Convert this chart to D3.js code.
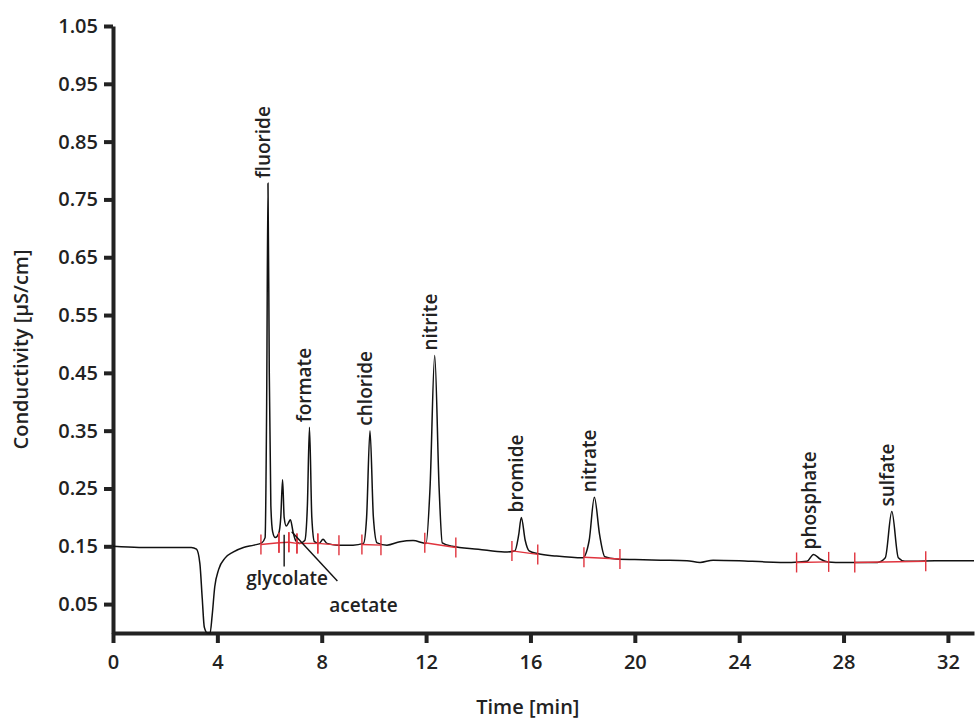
<!DOCTYPE html>
<html><head><meta charset="utf-8">
<script src="https://cdn.jsdelivr.net/npm/d3@7"></script>
<style>body{margin:0;background:#fff}text{font-family:"Open Sans",sans-serif;fill:#222}</style>
</head><body><svg id="c" width="975" height="723"></svg>
<script>
const traceT=[0,1,2,3,3.2,3.33,3.42,3.5,3.62,3.72,3.8,3.9,4.05,4.3,4.6,5,5.4,5.7,5.83,5.89,5.94,5.99,6.05,6.12,6.22,6.35,6.43,6.5,6.56,6.64,6.72,6.8,6.9,7.0,7.15,7.35,7.45,7.53,7.62,7.72,7.9,8.05,8.2,8.6,9.2,9.6,9.72,9.85,9.98,10.12,10.5,11,11.5,12.0,12.15,12.33,12.5,12.62,13,14,15,15.4,15.55,15.65,15.8,15.95,16.3,17,18,18.25,18.45,18.65,18.85,19.3,20,21,22,22.5,23,24,25,26,26.6,26.85,27.1,27.4,28,29.3,29.6,29.85,30.1,30.35,30.7,31.5,33];
const traceV=[0.15,0.148,0.148,0.148,0.145,0.12,0.06,0.01,0.0,0.0,0.03,0.08,0.11,0.13,0.14,0.148,0.152,0.156,0.165,0.4,0.778,0.45,0.22,0.175,0.165,0.172,0.2,0.265,0.2,0.185,0.19,0.196,0.175,0.16,0.155,0.16,0.22,0.356,0.2,0.158,0.155,0.162,0.155,0.152,0.152,0.155,0.2,0.35,0.2,0.156,0.152,0.158,0.16,0.155,0.25,0.48,0.25,0.156,0.15,0.145,0.14,0.142,0.17,0.2,0.16,0.142,0.137,0.133,0.13,0.16,0.235,0.17,0.132,0.128,0.127,0.126,0.125,0.122,0.126,0.125,0.123,0.122,0.124,0.136,0.128,0.123,0.122,0.122,0.13,0.21,0.13,0.124,0.124,0.125,0.125];
const intStart=[5.67,6.36,6.74,7.05,7.85,9.54,11.95,15.29,18.05,26.2,28.43];
const intEnd=[6.36,6.74,7.05,7.85,8.66,10.27,13.14,16.28,19.43,27.43,31.15];
const intV0=[0.153,0.156,0.157,0.155,0.155,0.153,0.156,0.142,0.131,0.122,0.122];
const intV1=[0.156,0.157,0.155,0.155,0.152,0.152,0.148,0.136,0.128,0.123,0.124];
const peakNames=["fluoride","formate","chloride","nitrite","bromide","nitrate","phosphate","sulfate"];
const peakT=[5.94,7.53,9.85,12.33,15.65,18.45,26.85,29.85];
const peakV=[0.778,0.356,0.35,0.48,0.2,0.235,0.136,0.21];
const xTicks=[0,4,8,12,16,20,24,28,32];
const yTicks=[0.05,0.15,0.25,0.35,0.45,0.55,0.65,0.75,0.85,0.95,1.05];

const svg=d3.select("#c");
const x=d3.scaleLinear().domain([0,33]).range([113,974]);
const y=d3.scaleLinear().domain([0,1.05]).range([633,26]);
const x0=113,yb=y(0);
const FS=20;
const style=g=>{g.select(".domain").attr("stroke","#222").attr("stroke-width",4);
  g.selectAll("line").attr("stroke","#222").attr("stroke-width",4);
  g.selectAll("text").attr("font-size",FS).attr("font-weight",600).attr("fill","#222");};
svg.append("g").attr("transform",`translate(0,${yb})`)
 .call(d3.axisBottom(x).tickValues(xTicks).tickSize(10).tickSizeOuter(0).tickPadding(12)).call(style);
svg.append("g").attr("transform",`translate(${x0},0)`)
 .call(d3.axisLeft(y).tickValues(yTicks).tickSize(9).tickSizeOuter(0).tickPadding(6).tickFormat(d3.format(".2f"))).call(style);
svg.append("path").datum(traceT.map((t,i)=>[t,traceV[i]]))
 .attr("fill","none").attr("stroke","#111").attr("stroke-width",1.5)
 .attr("d",d3.line().x(d=>x(d[0])).y(d=>y(d[1])).curve(d3.curveMonotoneX));
const ig=svg.append("g").attr("stroke","#e0333d").attr("stroke-width",1.4);
intStart.forEach((s,i)=>{
 ig.append("line").attr("x1",x(s)).attr("x2",x(intEnd[i])).attr("y1",y(intV0[i])).attr("y2",y(intV1[i]));
 ig.append("line").attr("x1",x(s)).attr("x2",x(s)).attr("y1",y(intV0[i])-10).attr("y2",y(intV0[i])+10);
 ig.append("line").attr("x1",x(intEnd[i])).attr("x2",x(intEnd[i])).attr("y1",y(intV1[i])-10).attr("y2",y(intV1[i])+10);
});
peakNames.forEach((n,i)=>{
 svg.append("text").attr("transform",`translate(${x(peakT[i])+2},${y(peakV[i])-5}) rotate(-90)`)
  .attr("font-size",19).attr("font-weight",600).text(n);
});
svg.append("line").attr("x1",x(6.56)).attr("x2",x(6.56)).attr("y1",y(0.17)).attr("y2",y(0.115)).attr("stroke","#111").attr("stroke-width",1.4);
svg.append("text").attr("x",x(6.56)+3).attr("y",585).attr("text-anchor","middle").attr("font-size",19).attr("font-weight",600).text("glycolate");
svg.append("line").attr("x1",x(6.85)).attr("x2",x(8.6)).attr("y1",y(0.175)).attr("y2",y(0.09)).attr("stroke","#111").attr("stroke-width",1.4);
svg.append("text").attr("x",x(9.6)).attr("y",612).attr("text-anchor","middle").attr("font-size",19).attr("font-weight",600).text("acetate");
svg.append("text").attr("x",x(15.9)).attr("y",714).attr("text-anchor","middle").attr("font-size",20).attr("font-weight",600).text("Time [min]");
svg.append("text").attr("transform",`translate(28,${(26+yb)/2+20}) rotate(-90)`).attr("text-anchor","middle").attr("font-size",20).attr("font-weight",600).text("Conductivity [µS/cm]");
</script></body></html>
